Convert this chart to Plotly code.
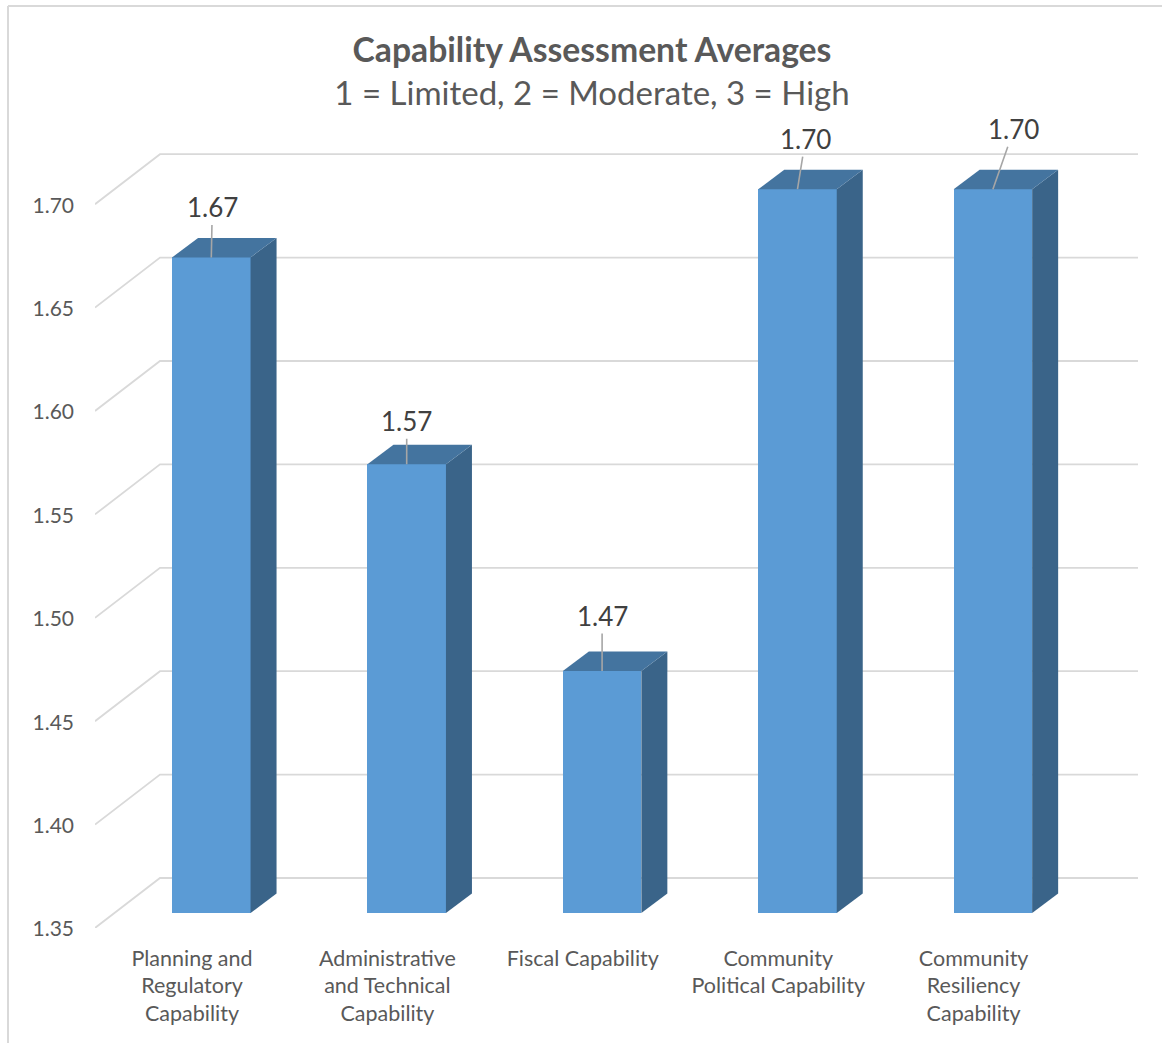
import plotly.graph_objects as go

categories = ["Planning and<br>Regulatory<br>Capability",
              "Administrative<br>and Technical<br>Capability",
              "Fiscal Capability",
              "Community<br>Political Capability",
              "Community<br>Resiliency<br>Capability"]
values = [1.667, 1.567, 1.467, 1.70, 1.70]
y_ticks = [1.35, 1.40, 1.45, 1.50, 1.55, 1.60, 1.65, 1.70]
label_offsets = [(1, -50), (0, -43), (0, -55), (8, -50), (21, -60)]

W, H = 1166, 1043
L, R, T, B = 95, 1138, 120, 928        # plot box in pixels
PX_X = 195.4                           # pixels per category
PX_Y = 2068.0                          # pixels per value unit
FONT = "Lato, Carlito, Calibri, sans-serif"
GRID = "#d9d9d9"

x0 = -(192 - L) / PX_X
x1 = (R - 192) / PX_X
y_top = 1.35 + (B - T) / PX_Y
floor_lift = 15                        # bars stand 15px above the front floor edge
bar_dx = 19.3 / PX_X
bar_w = 78.5 / PX_X
dep_x = 26 / PX_X
dep_y = 19.5 / PX_Y
wall_x = 65 / PX_X
wall_y = 50 / PX_Y
lift = floor_lift / PX_Y

fig = go.Figure()

# walls: gridlines run back from the front edge and across the rear wall
for t in y_ticks:
    fig.add_trace(go.Scatter(x=[x0, x0 + wall_x, x1], y=[t, t + wall_y, t + wall_y],
                             mode="lines", line=dict(color=GRID, width=1.8),
                             hoverinfo="skip", showlegend=False, cliponaxis=False))

idx = list(range(len(values)))
fig.add_trace(go.Bar(x=idx, y=values, width=bar_w, marker=dict(color="#5B9BD5", line=dict(width=0)),
                     xaxis="x2", yaxis="y2", showlegend=False))

for i, v in zip(idx, values):
    xr = i + bar_w / 2
    xl = i - bar_w / 2
    fig.add_trace(go.Scatter(x=[xr, xr + dep_x, xr + dep_x, xr, xr],
                             y=[1.35, 1.35 + dep_y, v + dep_y, v, 1.35],
                             mode="lines", fill="toself", fillcolor="#3A6489", line=dict(width=0),
                             xaxis="x2", yaxis="y2", hoverinfo="skip", showlegend=False, cliponaxis=False))
    fig.add_trace(go.Scatter(x=[xl, xl + dep_x, xr + dep_x, xr, xl],
                             y=[v, v + dep_y, v + dep_y, v, v],
                             mode="lines", fill="toself", fillcolor="#44749F", line=dict(width=0),
                             xaxis="x2", yaxis="y2", hoverinfo="skip", showlegend=False, cliponaxis=False))

annotations = []
for i, v, (ax, ay) in zip(idx, values, label_offsets):
    annotations.append(dict(x=i, y=v, xref="x2", yref="y2", text=f"{v:.2f}",
                            ax=ax, ay=ay, axref="pixel", ayref="pixel",
                            showarrow=True, arrowhead=0, arrowwidth=1.6, arrowcolor="#a6a6a6",
                            font=dict(family=FONT, size=26, color="#404040")))

fig.update_layout(
    width=W, height=H,
    margin=dict(l=L, r=W - R, t=T, b=H - B, pad=0),
    paper_bgcolor="white", plot_bgcolor="rgba(0,0,0,0)",
    showlegend=False, bargap=0, annotations=annotations,
    title=dict(text="<b><span style='font-size:33.7px'>Capability Assessment Averages</span></b><br>"
                    "<span style='font-size:33px'>1 = Limited, 2 = Moderate, 3 = High</span>",
               x=592 / W, xanchor="center", y=1 - 62 / H, yanchor="middle", yref="container",
               font=dict(family=FONT, color="#595959", size=33)),
    xaxis=dict(range=[x0, x1], tickmode="array", tickvals=idx, ticktext=categories,
               showgrid=False, zeroline=False, showline=False, ticks="", ticklabelstandoff=15,
               tickangle=0, tickfont=dict(family=FONT, size=21.5, color="#595959")),
    yaxis=dict(range=[1.35, y_top], tickmode="array", tickvals=y_ticks,
               ticktext=[f"{t:.2f}" for t in y_ticks], ticklabelshift=1,
               showgrid=False, zeroline=False, showline=False, ticks="", ticklabelstandoff=20,
               tickfont=dict(family=FONT, size=21, color="#595959")),
    xaxis2=dict(range=[x0 - bar_dx, x1 - bar_dx], anchor="y2", visible=False),
    yaxis2=dict(range=[1.35, y_top - lift], anchor="x2", visible=False,
                domain=[floor_lift / (B - T), 1]),
)

# outer chart frame
fig.add_shape(type="line", xref="paper", yref="paper", x0=(8 - L) / (R - L), x1=(8 - L) / (R - L),
              y0=(B - H) / (B - T), y1=(B - 6) / (B - T), line=dict(color=GRID, width=2))
fig.add_shape(type="line", xref="paper", yref="paper", x0=(8 - L) / (R - L), x1=(1162 - L) / (R - L),
              y0=(B - 6) / (B - T), y1=(B - 6) / (B - T), line=dict(color=GRID, width=2))

fig.write_html("out.html", config=dict(displayModeBar=False),
               post_script="document.body.style.margin='0';document.body.style.overflow='hidden';")
